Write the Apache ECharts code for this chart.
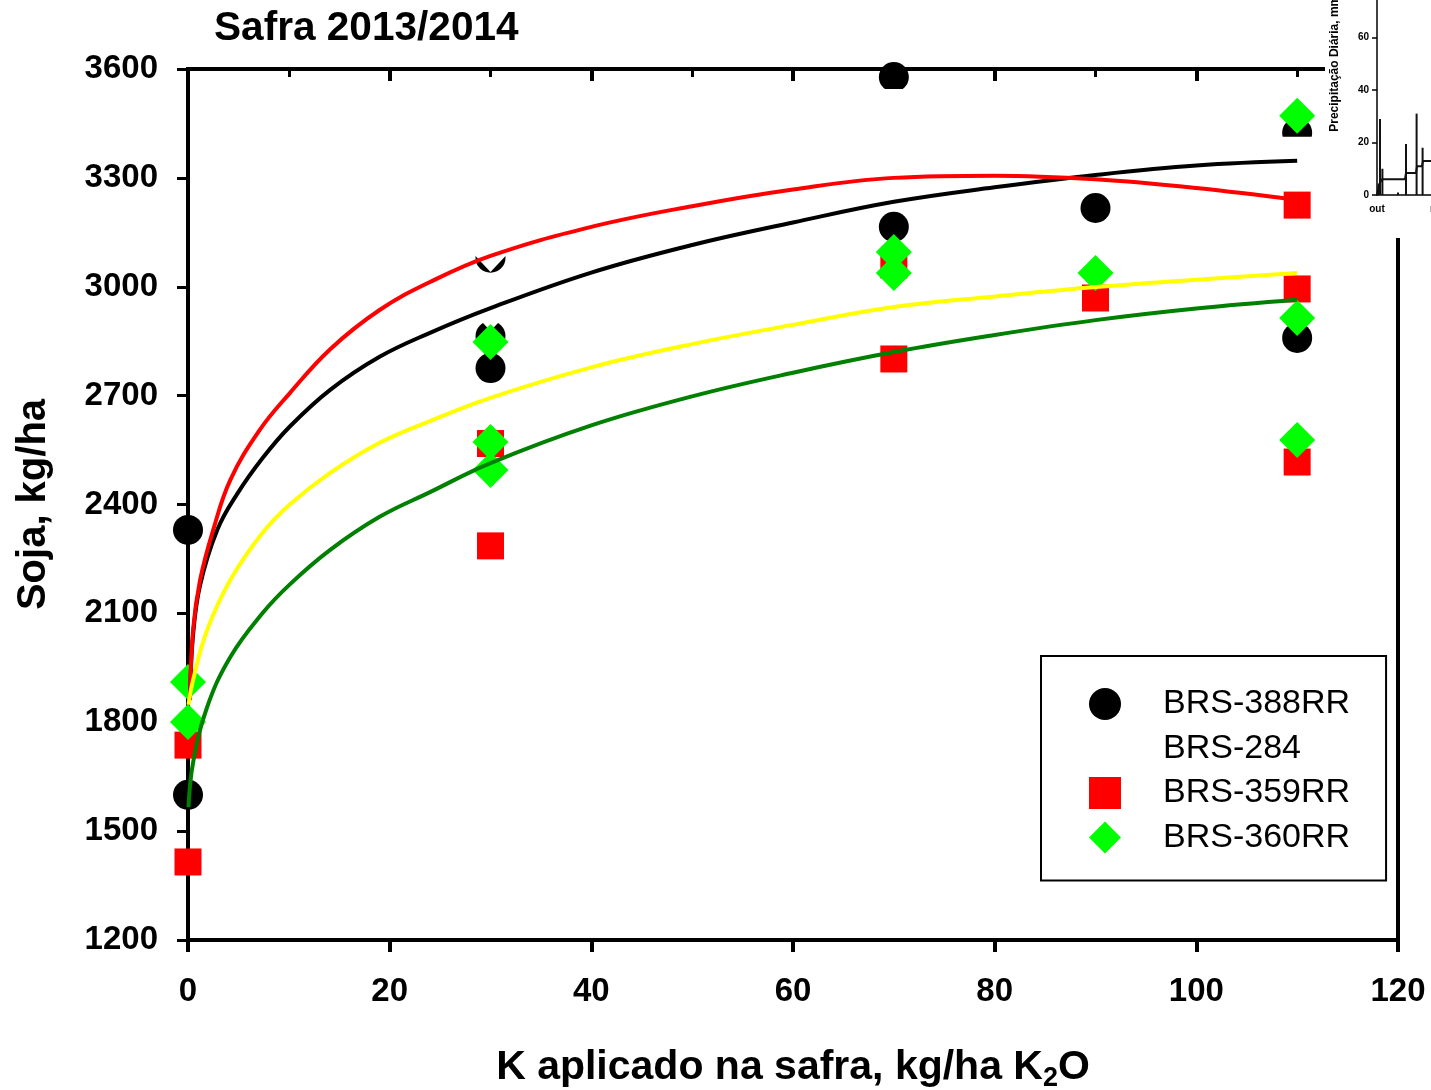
<!DOCTYPE html>
<html>
<head>
<meta charset="utf-8">
<script src="https://cdn.jsdelivr.net/npm/echarts@6/dist/echarts.min.js"></script>
<style>
  html, body { margin: 0; padding: 0; background: #fff; overflow: hidden; }
  #chart { width: 1431px; height: 1090px; }
</style>
</head>
<body>
<div id="chart"></div>
<script>
// Soybean yield (kg/ha) versus K2O applied in the 2013/2014 season
const FONT = '"Liberation Sans", Arial, Helvetica, sans-serif';

const cultivars = ['BRS-388RR', 'BRS-284', 'BRS-359RR', 'BRS-360RR'];

// observed yields, [K2O kg/ha, yield kg/ha]
const brs388 = [[0, 2330], [0, 1600], [30, 3080], [30, 2864], [30, 2776], [70, 3578], [70, 3165], [90, 3217], [110, 3424], [110, 2859]];
const brs284 = [[30, 3085], [30, 2922], [70, 3501], [110, 3369]];
const brs359 = [[0, 1737], [0, 1415], [30, 2568], [30, 2286], [70, 3060], [70, 2801], [90, 2969], [110, 3225], [110, 2994], [110, 2517]];
const brs360 = [[0, 1911], [0, 1801], [30, 2848], [30, 2572], [30, 2495], [70, 3096], [70, 3038], [90, 3038], [110, 3471], [110, 2914], [110, 2578]];

// fitted response curves
const fit388 = [[0.2, 1875], [0.5, 2040], [1.2, 2178], [2.9, 2330], [4.9, 2430], [7.4, 2528], [10.1, 2615], [14.1, 2716], [19, 2807], [24, 2873], [30, 2941], [40, 3039], [50, 3115], [60, 3177], [70, 3234], [80, 3274], [90, 3308], [100, 3334], [110, 3347]];
const fit284 = [[0.05, 1848], [0.5, 1916], [1.9, 2054], [4.2, 2192], [7.4, 2322], [10.1, 2400], [14.1, 2487], [19, 2570], [24, 2630], [30, 2694], [40, 2778], [50, 2842], [60, 2895], [70, 2944], [80, 2973], [90, 2999], [100, 3019], [110, 3038]];
const fit359 = [[0.2, 1861], [0.5, 2054], [1.2, 2192], [2.5, 2330], [4.2, 2468], [7.1, 2605], [10.1, 2707], [14.1, 2828], [19, 2936], [24, 3013], [30, 3085], [40, 3165], [50, 3222], [60, 3268], [70, 3300], [80, 3306], [90, 3296], [100, 3272], [110, 3239]];
const fit360 = [[0.05, 1566], [0.5, 1688], [1.9, 1842], [4.2, 1980], [7.4, 2101], [10.1, 2180], [14.1, 2275], [19, 2366], [24, 2434], [30, 2514], [40, 2618], [50, 2698], [60, 2763], [70, 2820], [80, 2867], [90, 2908], [100, 2940], [110, 2964]];

// daily rainfall panel (days from 1 October)
const monthTicks = [0, 31, 61, 92, 123, 151];
const monthNames = ['out', 'nov', 'dez', 'jan', 'fev', 'mar'];
const rainDaily = [[0.8, 4], [1.5, 29], [2.7, 10], [10.5, 1], [14.5, 19.4], [19.8, 31], [22.8, 18]];
const rainMean = [[0, 0], [1, 4], [2.5, 6], [14, 6], [14.5, 8.4], [19.5, 8.4], [20, 11], [22.5, 11], [23, 13], [40, 13]];

const chart = echarts.init(document.getElementById('chart'), null, { renderer: 'canvas' });

const markerStyle = {
  'BRS-388RR': { symbol: 'circle', symbolSize: 30, color: '#000000' },
  'BRS-284': { symbol: 'triangle', symbolSize: [60, 32], symbolRotate: 180, color: '#ffffff' },
  'BRS-359RR': { symbol: 'rect', symbolSize: 27, color: '#ff0000' },
  'BRS-360RR': { symbol: 'diamond', symbolSize: 36, color: '#00ff00' }
};
const observed = { 'BRS-388RR': brs388, 'BRS-284': brs284, 'BRS-359RR': brs359, 'BRS-360RR': brs360 };

const scatterSeries = cultivars.map((name, i) => ({
  name: name,
  type: 'scatter',
  xAxisIndex: 0,
  yAxisIndex: 0,
  data: observed[name],
  symbol: markerStyle[name].symbol,
  symbolSize: markerStyle[name].symbolSize,
  symbolRotate: markerStyle[name].symbolRotate || 0,
  itemStyle: { color: markerStyle[name].color, opacity: 1 },
  emphasis: { disabled: true },
  z: 2 + i
}));

const curves = [
  { name: 'ajuste BRS-388RR', data: fit388, color: '#000000' },
  { name: 'ajuste BRS-359RR', data: fit359, color: '#ff0000' },
  { name: 'ajuste BRS-284', data: fit284, color: '#ffff00' },
  { name: 'ajuste BRS-360RR', data: fit360, color: '#008000' }
];
const curveSeries = curves.map(c => ({
  name: c.name,
  type: 'line',
  xAxisIndex: 0,
  yAxisIndex: 0,
  data: c.data,
  smooth: 0.4,
  showSymbol: false,
  symbol: 'none',
  lineStyle: { color: c.color, width: 4 },
  emphasis: { disabled: true },
  z: 10
}));

const tickFont = { fontFamily: FONT, fontWeight: 'bold', fontSize: 33, color: '#000' };

const option = {
  backgroundColor: '#ffffff',
  animation: false,
  title: {
    text: 'Safra 2013/2014',
    left: 214,
    top: 8,
    padding: 0,
    textStyle: { fontFamily: FONT, fontWeight: 'bold', fontSize: 40.6, color: '#000' }
  },
  legend: {
    data: cultivars,
    orient: 'vertical',
    left: 1041,
    top: 656,
    padding: [31, 36, 26, 48],
    itemGap: 10.5,
    itemWidth: 32,
    itemHeight: 32,
    borderColor: '#000',
    borderWidth: 2,
    backgroundColor: '#fff',
    selectedMode: false,
    textStyle: { fontFamily: FONT, fontSize: 34, color: '#000', lineHeight: 34, padding: [0, 0, 0, 37] }
  },
  grid: [
    { left: 188, right: 33, top: 69, bottom: 150, show: true, borderColor: '#000', borderWidth: 4, outerBoundsMode: 'none', containLabel: false },
    { left: 1377, top: -67.5, width: 360, bottom: 895, show: false, outerBoundsMode: 'none', containLabel: false }
  ],
  xAxis: [
    {
      gridIndex: 0, type: 'value', min: 0, max: 120, interval: 20,
      name: 'K aplicado na safra, kg/ha K{sub|2}O',
      nameLocation: 'middle', nameGap: 103,
      nameTextStyle: {
        fontFamily: FONT, fontWeight: 'bold', fontSize: 41, color: '#000',
        rich: { sub: { fontFamily: FONT, fontWeight: 'bold', fontSize: 27, color: '#000', padding: [22, 0, 0, 0] } }
      },
      axisLine: { show: true, onZero: false, lineStyle: { color: '#000', width: 4 } },
      axisTick: { show: true, inside: false, length: 12, lineStyle: { color: '#000', width: 4 } },
      axisLabel: { show: true, margin: 35, ...tickFont },
      splitLine: { show: false }
    },
    {
      gridIndex: 0, type: 'value', min: 0, max: 120, interval: 20,
      axisLine: { show: false },
      axisTick: { show: true, inside: true, length: 12, lineStyle: { color: '#000', width: 4 } },
      minorTick: { show: true, splitNumber: 2, length: 8, lineStyle: { color: '#000', width: 3 } },
      axisLabel: { show: false },
      splitLine: { show: false }
    },
    {
      gridIndex: 1, type: 'value', min: 0, max: 180, z: 110,
      axisLine: { show: true, onZero: false, lineStyle: { color: '#000', width: 1.5 } },
      axisTick: { show: false, customValues: monthTicks },
      axisLabel: {
        show: true, margin: 9, customValues: monthTicks, showMinLabel: true,
        formatter: v => monthNames[monthTicks.indexOf(v)] || '',
        fontFamily: FONT, fontWeight: 'bold', fontSize: 10, color: '#000'
      },
      splitLine: { show: false }
    }
  ],
  yAxis: [
    {
      gridIndex: 0, type: 'value', min: 1200, max: 3600, interval: 300,
      name: 'Soja, kg/ha',
      nameLocation: 'middle', nameGap: 134, nameRotate: 90,
      nameTextStyle: { fontFamily: FONT, fontWeight: 'bold', fontSize: 40, color: '#000' },
      axisLine: { show: true, onZero: false, lineStyle: { color: '#000', width: 4 } },
      axisTick: { show: true, inside: false, length: 11, lineStyle: { color: '#000', width: 3 } },
      axisLabel: { show: true, margin: 30, formatter: v => String(v), ...tickFont },
      splitLine: { show: false }
    },
    {
      gridIndex: 1, type: 'value', min: 0, max: 100, interval: 20, z: 110,
      name: 'Precipitação Diária, mm',
      nameLocation: 'middle', nameGap: 36, nameRotate: 90,
      nameTextStyle: { fontFamily: FONT, fontWeight: 'bold', fontSize: 12, color: '#000' },
      axisLine: { show: true, onZero: false, lineStyle: { color: '#000', width: 1.5 } },
      axisTick: { show: true, inside: false, length: 5, lineStyle: { color: '#000', width: 1.5 } },
      axisLabel: { show: true, margin: 8, fontFamily: FONT, fontWeight: 'bold', fontSize: 10, color: '#000' },
      splitLine: { show: false }
    }
  ],
  graphic: [
    { type: 'rect', z: 100, shape: { x: 1325, y: 0, width: 106, height: 238 }, style: { fill: '#ffffff' }, silent: true }
  ],
  series: [
    ...scatterSeries,
    ...curveSeries,
    {
      name: 'chuva diária', type: 'bar', xAxisIndex: 2, yAxisIndex: 1,
      data: rainDaily, barWidth: 2, itemStyle: { color: '#111' }, z: 110, emphasis: { disabled: true }
    },
    {
      name: 'média', type: 'line', xAxisIndex: 2, yAxisIndex: 1,
      data: rainMean, showSymbol: false, symbol: 'none', lineStyle: { color: '#111', width: 2 }, z: 111, emphasis: { disabled: true }
    }
  ]
};

chart.setOption(option);
</script>
</body>
</html>
